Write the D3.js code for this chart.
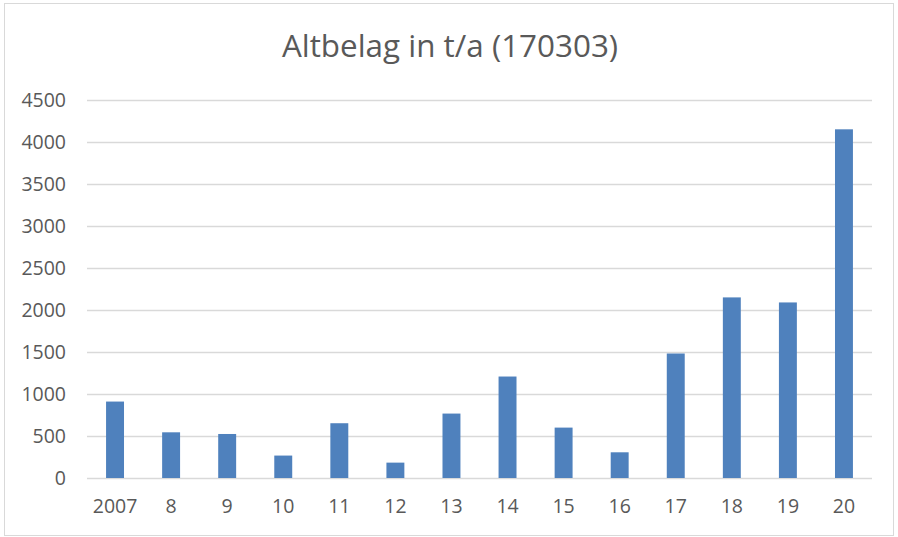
<!DOCTYPE html>
<html>
<head>
<meta charset="utf-8">
<script src="https://cdn.jsdelivr.net/npm/d3@7"></script>
<style>
  body { margin: 0; background: #fff; }
  text { font-family: "Open Sans", sans-serif; fill: #595959; }
  .grid line { stroke: #d9d9d9; stroke-width: 1.3px; }
  .grid path { display: none; }
  .axisLines path, .axisLines line { display: none; }
</style>
</head>
<body>
<div id="chart"></div>
<script>
// data
var years = ["2007", "8", "9", "10", "11", "12", "13", "14", "15", "16", "17", "18", "19", "20"];
var values = [910, 544, 524, 267, 652, 183, 767, 1208, 600, 306, 1482, 2150, 2090, 4151];
var yTicks = [0, 500, 1000, 1500, 2000, 2500, 3000, 3500, 4000, 4500];
var title = "Altbelag in t/a (170303)";

var W = 898, H = 537;
var margin = {top: 100, right: 26, bottom: 59, left: 87},
    width = 872 - margin.left,
    height = 478 - margin.top;

var svg = d3.select("#chart").append("svg")
    .attr("width", W)
    .attr("height", H);

// outer frame
svg.append("rect")
    .attr("x", 4.5).attr("y", 3.5)
    .attr("width", 889).attr("height", 532)
    .attr("fill", "none")
    .attr("stroke", "#d9d9d9");

svg.append("text")
    .attr("x", 450)
    .attr("y", 57)
    .attr("text-anchor", "middle")
    .style("font-size", "31.4px")
    .text(title);

var g = svg.append("g")
    .attr("transform", "translate(" + margin.left + "," + margin.top + ")");

var x = d3.scaleBand().domain(years).range([0, width])
    .paddingInner(0.68).paddingOuter(0.34);
var y = d3.scaleLinear().domain([0, 4500]).range([height, 0]);

// gridlines
g.append("g")
    .attr("class", "grid")
    .call(d3.axisLeft(y).tickValues(yTicks).tickSize(-width).tickFormat(""));

// y labels
g.append("g")
    .attr("class", "axisLines")
    .call(d3.axisLeft(y).tickValues(yTicks).tickSize(0).tickPadding(21)
        .tickFormat(d3.format("d")))
    .call(function(a) { a.selectAll("text").style("font-size", "19.5px"); });

// x labels
g.append("g")
    .attr("class", "axisLines")
    .attr("transform", "translate(0," + height + ")")
    .call(d3.axisBottom(x).tickSize(0).tickPadding(21))
    .call(function(a) { a.selectAll("text").style("font-size", "19.5px"); });

g.selectAll(".axisLines text").attr("fill", "#595959");

g.selectAll(".bar")
    .data(values)
    .enter()
    .append("rect")
    .attr("class", "bar")
    .attr("x", function(d, i) { return x(years[i]); })
    .attr("width", x.bandwidth())
    .attr("y", function(d) { return y(d); })
    .attr("height", function(d) { return height - y(d); })
    .attr("fill", "#4f81bd");
</script>
</body>
</html>
